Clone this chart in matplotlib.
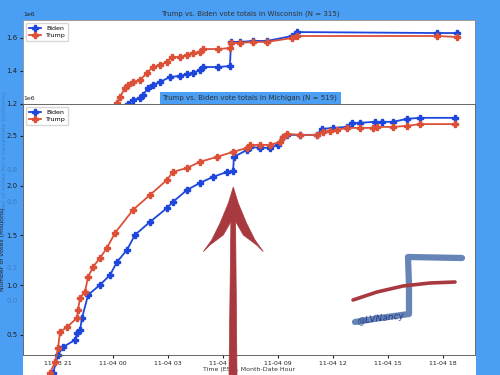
import matplotlib
matplotlib.use("Agg")
import matplotlib.pyplot as plt
from matplotlib.patches import Rectangle, Polygon
from matplotlib.lines import Line2D

# hours after 11-03 21:00 EST, votes in millions

wi_trump_h = [3.22, 3.38, 3.66, 3.82, 4.09, 4.47, 4.86, 5.18, 5.56, 5.95, 6.22, 6.66, 7.04,
              7.37, 7.75, 7.91, 8.73, 9.38, 9.44, 9.93, 10.64, 11.40, 12.77, 13.04, 20.68, 21.77]
wi_trump_v = [1.206, 1.242, 1.297, 1.315, 1.333, 1.345, 1.388, 1.424, 1.436, 1.455, 1.485, 1.485, 1.497,
              1.509, 1.515, 1.533, 1.533, 1.539, 1.570, 1.570, 1.576, 1.576, 1.600, 1.612, 1.612, 1.606]
wi_biden_h = [3.82, 4.09, 4.47, 4.64, 4.91, 5.18, 5.56, 6.11, 6.66, 7.04, 7.37, 7.75, 7.91,
              8.73, 9.38, 9.44, 9.93, 10.64, 11.40, 12.77, 13.04, 20.68, 21.77]
wi_biden_v = [1.200, 1.224, 1.236, 1.255, 1.297, 1.315, 1.333, 1.364, 1.370, 1.382, 1.388, 1.406, 1.424,
              1.424, 1.430, 1.576, 1.576, 1.582, 1.582, 1.612, 1.636, 1.630, 1.630]

mi_trump_h = [-0.44, -0.16, 0.0, 0.11, 0.49, 1.04, 1.09, 1.20, 1.47, 1.64, 1.91, 2.29, 2.67, 3.11,
              4.09, 5.02, 5.95, 6.27, 7.04, 7.75, 8.67, 9.55, 10.31, 10.47, 11.02, 11.57, 12.11,
              12.27, 12.49, 13.20, 14.13, 14.46, 14.84, 15.22, 15.77, 16.48, 17.18, 17.40, 18.28,
              19.04, 19.75, 21.66]
mi_trump_v = [0.118, 0.229, 0.369, 0.530, 0.580, 0.671, 0.751, 0.872, 0.932, 1.083, 1.183, 1.274,
              1.374, 1.525, 1.756, 1.907, 2.058, 2.138, 2.178, 2.239, 2.289, 2.339, 2.379, 2.409,
              2.409, 2.409, 2.440, 2.490, 2.520, 2.510, 2.510, 2.540, 2.550, 2.560, 2.580, 2.580,
              2.580, 2.590, 2.590, 2.600, 2.618, 2.618]
mi_biden_h = [-0.27, 0.0, 0.27, 0.93, 1.04, 1.20, 1.31, 1.64, 2.29, 2.84, 3.22, 3.76, 4.20, 5.02,
              5.95, 6.27, 7.04, 7.75, 8.46, 9.22, 9.55, 9.60, 10.31, 10.47, 11.02, 11.57, 12.00,
              12.27, 12.49, 13.20, 14.13, 14.40, 15.00, 15.77, 16.04, 16.48, 17.29, 17.68, 18.28,
              19.04, 19.75, 21.66]
mi_biden_v = [0.118, 0.299, 0.379, 0.450, 0.520, 0.550, 0.671, 0.902, 1.003, 1.103, 1.234, 1.354,
              1.505, 1.636, 1.776, 1.837, 1.957, 2.028, 2.088, 2.138, 2.148, 2.289, 2.359, 2.389,
              2.380, 2.380, 2.409, 2.490, 2.510, 2.510, 2.510, 2.570, 2.580, 2.590, 2.631, 2.631,
              2.641, 2.641, 2.641, 2.671, 2.681, 2.681]

x_ticks = [0, 3, 6, 9, 12, 15, 18, 21]
x_labels = ["11-03 21", "11-04 00", "11-04 03", "11-04 06", "11-04 09", "11-04 12", "11-04 15", "11-04 18"]
mi_ghost_ticks = ["0.8", "0.6", "0.2", "0.0"]

bg = "#4a9ef3"
biden_c = "#1d46dc"
trump_c = "#dc5037"
arrow_c = "#a8393e"
W, H = 500, 375


def fx(x):
    return x / W


def fy(y):
    return 1 - y / H


fig = plt.figure(figsize=(5, 3.75), dpi=100)
fig.patch.set_facecolor(bg)

# Wisconsin (behind)
ax_wi = fig.add_axes([fx(23), fy(120), 452 / W, 100 / H])
ax_wi.set_zorder(1)
ax_wi.plot(wi_biden_h, [v * 1e6 for v in wi_biden_v], color=biden_c,
           marker="P", ms=4, lw=1.3, label="Biden")
ax_wi.plot(wi_trump_h, [v * 1e6 for v in wi_trump_v], color=trump_c,
           marker="P", ms=4, lw=1.3, label="Trump")
ax_wi.set_xlim(-1.91, 22.75)
ax_wi.set_ylim(1.103e6, 1.709e6)
ax_wi.set_yticks([1.2e6, 1.4e6, 1.6e6])
ax_wi.set_xticks([])
ax_wi.tick_params(labelsize=5, length=2.5, pad=1.5, colors="#222222")
ax_wi.yaxis.get_offset_text().set_fontsize(4.5)
for s in ax_wi.spines.values():
    s.set_color("#888888")
    s.set_linewidth(0.6)
ax_wi.legend(loc="upper left", fontsize=4.5, handlelength=2, borderpad=0.4, labelspacing=0.3)
fig.text(0.5, fy(14), "Trump vs. Biden vote totals in Wisconsin (N = 315)",
         fontsize=5, ha="center", va="center", color="#333333")

# white panel of the Michigan screenshot
fig.add_artist(Rectangle((fx(23), 0), 453 / W, fy(104), facecolor="white",
                         edgecolor="none", transform=fig.transFigure, zorder=2))

# Michigan
ax_mi = fig.add_axes([fx(23), fy(355), 452 / W, 251 / H])
ax_mi.set_zorder(3)
ax_mi.plot(mi_biden_h, [v * 1e6 for v in mi_biden_v], color=biden_c,
           marker="P", ms=4, lw=1.3, label="Biden", clip_on=False)
ax_mi.plot(mi_trump_h, [v * 1e6 for v in mi_trump_v], color=trump_c,
           marker="P", ms=4, lw=1.3, label="Trump", clip_on=False)
ax_mi.set_xlim(-1.91, 22.75)
ax_mi.set_ylim(0.299e6, 2.82e6)
ax_mi.set_yticks([0.5e6, 1.0e6, 1.5e6, 2.0e6, 2.5e6])
ax_mi.set_xticks(x_ticks)
ax_mi.set_xticklabels(x_labels)
ax_mi.tick_params(length=2.5, pad=1.5, colors="#222222")
ax_mi.tick_params(axis="x", labelsize=4.5)
ax_mi.tick_params(axis="y", labelsize=5)
ax_mi.yaxis.get_offset_text().set_fontsize(4.5)
for s in ax_mi.spines.values():
    s.set_color("#666666")
    s.set_linewidth(0.7)
ax_mi.set_xlabel("Time (EST), Month-Date Hour", fontsize=4.5, color="#333333", labelpad=1)
ax_mi.set_ylabel("Number of votes (millions)", fontsize=4.5, color="#222222")
ax_mi.yaxis.set_label_coords(-0.04, 0.42)
ax_mi.legend(loc="upper left", fontsize=4.5, handlelength=2, borderpad=0.4, labelspacing=0.3)

# faint labels of the layer underneath
for lab, y in zip(mi_ghost_ticks, [170, 202, 268, 301]):
    fig.text(fx(18), fy(y), lab, fontsize=5, ha="right", va="center",
             color="#2a4f80", alpha=0.4)
fig.text(fx(5), fy(158), "Number of votes for a candidate (millions)", fontsize=4.5,
         rotation=90, ha="center", va="center", color="#2a4f80", alpha=0.35)

# Michigan title tab
fig.add_artist(Rectangle((fx(160), fy(104)), 181 / W, 12 / H, facecolor=bg,
                         edgecolor="none", transform=fig.transFigure, zorder=4))
fig.text(fx(250), fy(98), "Trump vs. Biden vote totals in Michigan (N = 519)",
         fontsize=5, ha="center", va="center", color="#333333", zorder=5)

# big hand-drawn arrow
shaft = [(229, 375), (237, 375), (235.5, 212), (231, 212)]
head = [(233.3, 187), (228.3, 203.3), (220, 223.3), (211.7, 240), (203.3, 251.7),
        (210, 245), (223.3, 235), (230, 223.3), (233.3, 216.7),
        (236.6, 223.3), (243.3, 235), (256.6, 245), (263.3, 251.7),
        (255, 240), (246.6, 223.3), (238.3, 203.3)]
for pts in (shaft, head):
    fig.add_artist(Polygon([(fx(x), fy(y)) for x, y in pts], closed=True,
                           facecolor=arrow_c, edgecolor=arrow_c, lw=0.5,
                           transform=fig.transFigure, zorder=6))

# signature scribble
sig_f = [(355, 322), (380, 318), (409, 314), (409, 285), (408, 257), (435, 257.5), (462, 258)]
fig.add_artist(Line2D([fx(x) for x, y in sig_f], [fy(y) for x, y in sig_f], lw=4.5,
                      color="#4b70aa", alpha=0.85, solid_capstyle="round",
                      solid_joinstyle="round", transform=fig.transFigure, zorder=6))
sig_r = [(353, 300), (377, 292), (403, 286), (430, 283), (455, 282)]
fig.add_artist(Line2D([fx(x) for x, y in sig_r], [fy(y) for x, y in sig_r], lw=2.6,
                      color=arrow_c, solid_capstyle="round", transform=fig.transFigure, zorder=7))
fig.text(fx(381), fy(319), "@LVNancy", fontsize=6.5, rotation=7, style="italic",
         ha="center", va="center", color="#22398a", zorder=8)

plt.savefig("out.png", dpi=100, facecolor=bg)
plt.close()
